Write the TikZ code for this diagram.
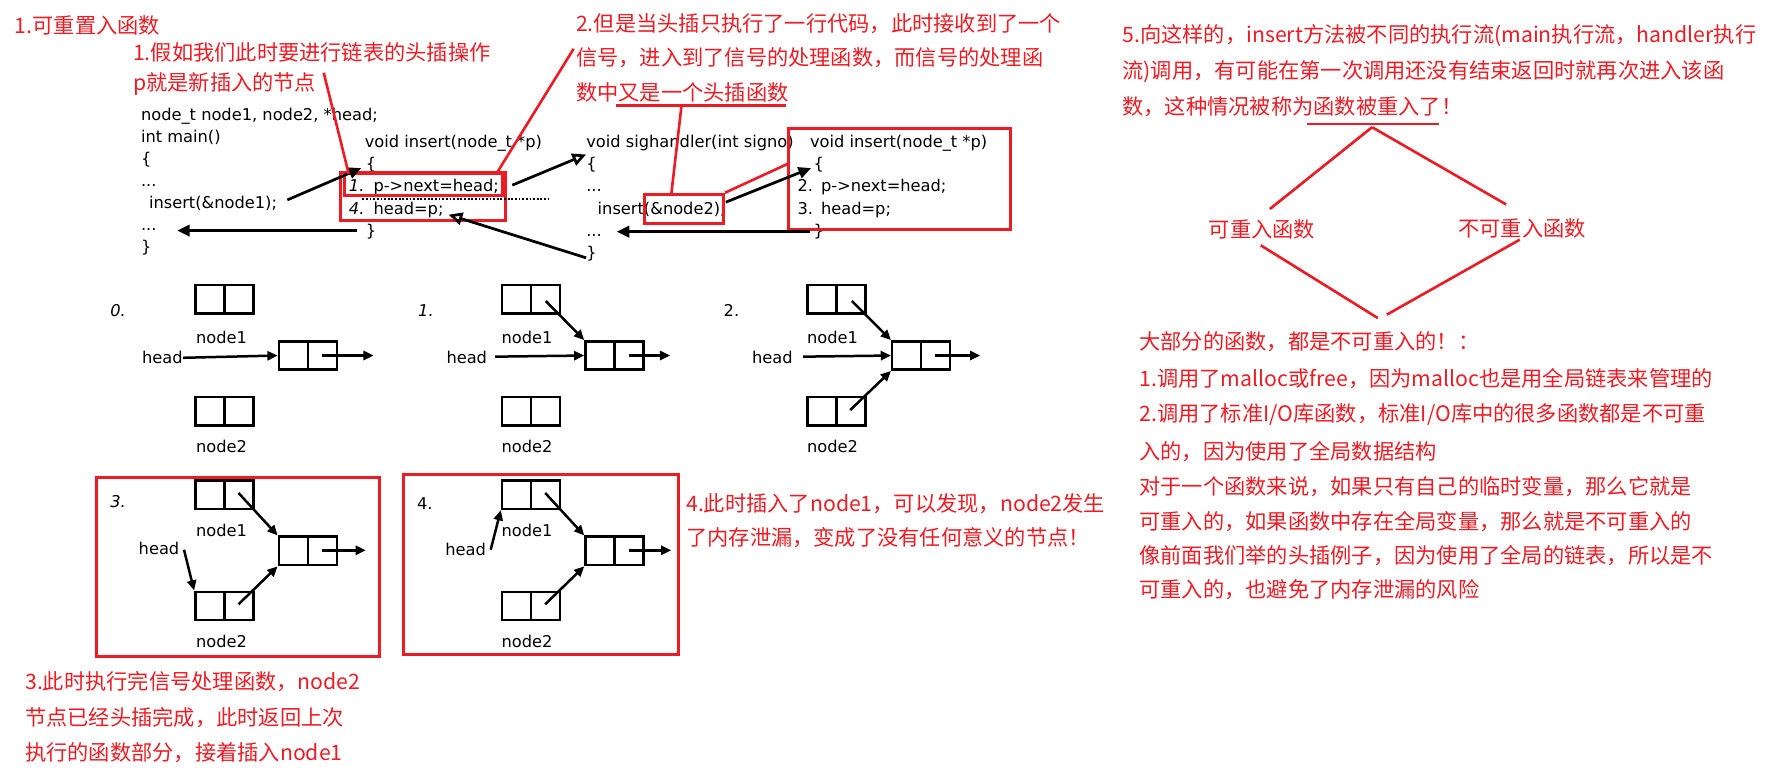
\documentclass[tikz,border=0pt]{standalone}
\usepackage{fontspec}
\setmainfont{DejaVu Sans}
\newfontfamily\cjk{Noto Sans CJK SC}
\usetikzlibrary{arrows.meta}
\definecolor{myred}{RGB}{237,28,36}
\begin{document}
\begin{tikzpicture}[x=1pt,y=-1pt,
  redtxt/.style={text=myred,font=\cjk\fontsize{18.7}{22}\selectfont,anchor=west,inner sep=0pt},
  redc/.style={text=myred,font=\cjk\fontsize{18.7}{22}\selectfont,inner sep=0pt},
  code/.style={font=\fontsize{14.3}{17}\selectfont,anchor=base west,inner sep=0pt},
  lbl/.style={font=\fontsize{14.3}{17}\selectfont,inner sep=0pt},
  cell/.style={draw,line width=2.2pt,minimum width=51pt,minimum height=25pt,inner sep=0pt},
  arr/.style={line width=2.2pt,-{Triangle[length=9pt,width=8pt]}},
  codearr/.style={line width=2.4pt,-{Triangle[length=11pt,width=10pt]}},
  openarr/.style={line width=2.4pt,-{Triangle[open,length=12pt,width=11pt]}},
  redbox/.style={draw=myred,line width=2.6pt,inner sep=0pt},
  redline/.style={draw=myred,line width=2.3pt}
]
\useasboundingbox[fill=white] (0,0) rectangle (1568,686);

% ---------------- red annotations (top) ----------------
\node[redtxt] (t1) at (13,22) {1.可重置入函数};
\node[redtxt] (t2) at (117,46) {1.假如我们此时要进行链表的头插操作};
\node[redtxt] (t3) at (117,74) {p就是新插入的节点};
\node[redtxt] (t4a) at (507,21) {2.但是当头插只执行了一行代码，此时接收到了一个};
\node[redtxt] (t4b) at (507,51) {信号，进入到了信号的处理函数，而信号的处理函};
\node[redtxt] (t4c) at (507,81) {数中又是一个头插函数};

% ---------------- main code ----------------
\node[code] (m1) at (124,106) {node\_t node1, node2, *head;};
\node[code] (m2) at (124,125.5) {int main()};
\node[code] (m3) at (124,145) {\{};
\node[code] (m4) at (124,164) {...};
\node[code] (m5) at (131,183.5) {insert(\&node1);};
\node[code] (m6) at (124,203) {...};
\node[code] (m7) at (124,222) {\}};

% ---------------- insert (first call) ----------------
\node[code] (i1) at (321,130) {void insert(node\_t *p)};
\node[code] (i2) at (322,149.5) {\{};
\node[code] (i3) at (307,169) {\textit{1.}\hspace{8pt}p->next=head;};
\node[code] (i4) at (307,189) {\textit{4.}\hspace{8pt}head=p;};
\node[code] (i5) at (322,208) {\}};

% ---------------- sighandler ----------------
\node[code] (s1) at (516,130) {void sighandler(int signo)};
\node[code] (s2) at (516,149.5) {\{};
\node[code] (s3) at (516,169) {...};
\node[code] (s4) at (526,188.5) {insert(\&node2);};
\node[code] (s5) at (516,208) {...};
\node[code] (s6) at (516,227.5) {\}};

% ---------------- insert (second call) ----------------
\node[code] (j1) at (713,130) {void insert(node\_t *p)};
\node[code] (j2) at (716,149.5) {\{};
\node[code] (j3) at (702,169) {2.\hspace{7pt}p->next=head;};
\node[code] (j4) at (702,189) {3.\hspace{7pt}head=p;};
\node[code] (j5) at (716,208.5) {\}};

% red boxes round code
\node[redbox,minimum width=139pt,minimum height=19pt] (bxin) at (372.5,162.5) {};
\node[redbox,minimum width=145pt,minimum height=42pt] (bxout) at (372.5,173) {};
\node[redbox,minimum width=70pt,minimum height=26pt] (bxn2) at (602,184) {};
\node[redbox,minimum width=196pt,minimum height=89pt] (bxins) at (792,157.5) {};

% dotted separation
\coordinate (dA) at (319,175);
\coordinate (dB) at (483,175);
\draw[line width=2pt,dash pattern=on 1.6pt off 1.6pt] (dA) -- (dB);

% code arrows
\coordinate (a1s) at (253,176);   \coordinate (a1e) at (318,148);
\coordinate (a2s) at (314,203);   \coordinate (a2e) at (156,203);
\coordinate (a3s) at (451,163);   \coordinate (a3e) at (516,136);
\coordinate (a4s) at (516,227);   \coordinate (a4e) at (395,189);
\coordinate (a5s) at (639,178);   \coordinate (a5e) at (714,148);
\coordinate (a6s) at (713,204);   \coordinate (a6e) at (543,204);
\draw[codearr] (a1s) -- (a1e);
\draw[codearr] (a2s) -- (a2e);
\draw[openarr] (a3s) -- (a3e);
\draw[openarr] (a4s) -- (a4e);
\draw[codearr] (a5s) -- (a5e);
\draw[codearr] (a6s) -- (a6e);

% red pointer lines
\coordinate (r1s) at (285,64);  \coordinate (r1e) at (307,153);
\coordinate (r2s) at (505,43);  \coordinate (r2e) at (437,153);
\coordinate (u1a) at (542,93);  \coordinate (u1b) at (692,93);
\coordinate (u1m) at (600,93);  \coordinate (r3e) at (591,171);
\coordinate (r4e) at (694,144);
\draw[redline] (r1s) -- (r1e);
\draw[redline] (r2s) -- (r2e);
\draw[redline] (u1a) -- (u1b);
\draw[redline] (u1m) -- (r3e);
\draw[redline] (bxn2.north east) -- (r4e);

% ---------------- panel 0 ----------------
\node[lbl,font=\fontsize{14.3}{17}\selectfont\itshape] (p0) at (104,273) {0.};
\node[cell] (a0) at (197.5,263.5) {};
\node[cell] (c0) at (271,313) {};
\node[cell] (b0) at (197.5,362) {};
\foreach \n in {a0,c0,b0} \draw[line width=2.2pt] (\n.north) -- (\n.south);
\node[lbl] (la0) at (195,297) {node1};
\node[lbl] (lb0) at (195,393) {node2};
\node[lbl,anchor=east] (h0) at (161,315) {head};
\coordinate (o0) at (283.5,313); \coordinate (o0e) at (329,313);
\draw[arr] (h0.east) -- (c0.west);
\draw[arr] (o0) -- (o0e);

% ---------------- panel 1 ----------------
\node[lbl,font=\fontsize{14.3}{17}\selectfont\itshape] (p1) at (375,273) {1.};
\node[cell] (a1) at (467.5,263.5) {};
\node[cell] (c1) at (541,313) {};
\node[cell] (b1) at (467.5,362) {};
\foreach \n in {a1,c1,b1} \draw[line width=2.2pt] (\n.north) -- (\n.south);
\node[lbl] (la1) at (464,297) {node1};
\node[lbl] (lb1) at (464,393) {node2};
\node[lbl,anchor=east] (h1) at (429,315) {head};
\coordinate (h1s) at (436,314);
\coordinate (o1) at (553.5,313); \coordinate (o1e) at (590,313);
\coordinate (q1) at (480.5,265);
\draw[arr] (h1s) -- (c1.west);
\draw[arr] (o1) -- (o1e);
\draw[arr] (q1) -- (c1.north west);

% ---------------- panel 2 ----------------
\node[lbl] (p2) at (644,273) {2.};
\node[cell] (a2) at (736.5,263.5) {};
\node[cell] (c2) at (811,313) {};
\node[cell] (b2) at (736.5,362) {};
\foreach \n in {a2,c2,b2} \draw[line width=2.2pt] (\n.north) -- (\n.south);
\node[lbl] (la2) at (733,297) {node1};
\node[lbl] (lb2) at (733,393) {node2};
\node[lbl,anchor=east] (h2) at (698,315) {head};
\coordinate (h2s) at (707,314);
\coordinate (o2) at (823.5,313); \coordinate (o2e) at (863,313);
\coordinate (q2) at (750,265);
\coordinate (w2) at (748.5,361);
\draw[arr] (h2s) -- (c2.west);
\draw[arr] (o2) -- (o2e);
\draw[arr] (q2) -- (c2.north west);
\draw[arr] (w2) -- (c2.south west);

% ---------------- panel 3 ----------------
\node[redbox,minimum width=249pt,minimum height=158pt] (bx3) at (209.5,499) {};
\node[lbl,font=\fontsize{14.3}{17}\selectfont\itshape] (p3) at (104,442) {3.};
\node[cell] (a3) at (197.5,435.5) {};
\node[cell] (c3) at (271,485) {};
\node[cell] (b3) at (197.5,533.5) {};
\foreach \n in {a3,c3,b3} \draw[line width=2.2pt] (\n.north) -- (\n.south);
\node[lbl] (la3) at (195,467) {node1};
\node[lbl] (lb3) at (195,565) {node2};
\node[lbl] (h3) at (140,483) {head};
\coordinate (h3s) at (162,484);
\coordinate (o3) at (283.5,484.5); \coordinate (o3e) at (322,484.5);
\coordinate (q3) at (210,434);
\coordinate (w3) at (210,532);
\draw[arr] (h3s) -- (b3.north west);
\draw[arr] (o3) -- (o3e);
\draw[arr] (q3) -- (c3.north west);
\draw[arr] (w3) -- (c3.south west);

% ---------------- panel 4 ----------------
\node[redbox,minimum width=242pt,minimum height=158pt] (bx4) at (476,497) {};
\node[lbl] (p4) at (374,443) {4.};
\node[cell] (a4) at (467.5,435.5) {};
\node[cell] (c4) at (541,485) {};
\node[cell] (b4) at (467.5,533.5) {};
\foreach \n in {a4,c4,b4} \draw[line width=2.2pt] (\n.north) -- (\n.south);
\node[lbl] (la4) at (464,467) {node1};
\node[lbl] (lb4) at (464,565) {node2};
\node[lbl] (h4) at (410,484) {head};
\coordinate (h4s) at (432,484);
\coordinate (o4) at (553.5,484.5); \coordinate (o4e) at (591,484.5);
\coordinate (q4) at (480,434);
\coordinate (w4) at (480,532);
\draw[arr] (h4s) -- (a4.south west);
\draw[arr] (o4) -- (o4e);
\draw[arr] (q4) -- (c4.north west);
\draw[arr] (w4) -- (c4.south west);

% ---------------- red annotations (bottom) ----------------
\node[redtxt] (b1t) at (22,600) {3.此时执行完信号处理函数，node2};
\node[redtxt] (b2t) at (22,632) {节点已经头插完成，此时返回上次};
\node[redtxt] (b3t) at (22,663) {执行的函数部分，接着插入node1};
\node[redtxt] (f1t) at (604,443) {4.此时插入了node1，可以发现，node2发生};
\node[redtxt] (f2t) at (604,473) {了内存泄漏，变成了没有任何意义的节点！};

% ---------------- right column ----------------
\node[redtxt] (g1) at (988,31) {5.向这样的，insert方法被不同的执行流(main执行流，handler执行};
\node[redtxt] (g2) at (988,63) {流)调用，有可能在第一次调用还没有结束返回时就再次进入该函};
\node[redtxt] (g3) at (988,94) {数，这种情况被称为函数被重入了！};
\coordinate (u2a) at (1151,109); \coordinate (u2b) at (1267,109);
\draw[redline] (u2a) -- (u2b);
\node[redc] (k1) at (1111,202) {可重入函数};
\node[redc] (k2) at (1340,201) {不可重入函数};
\coordinate (dt) at (1208,112);
\coordinate (dl) at (1118,184);
\coordinate (dr) at (1326,180);
\coordinate (dl2) at (1110,216);
\coordinate (dr2) at (1338,211);
\coordinate (db1) at (1213,280);
\coordinate (db2) at (1221,277);
\draw[redline] (dt) -- (dl);
\draw[redline] (dt) -- (dr);
\draw[redline] (dl2) -- (db1);
\draw[redline] (dr2) -- (db2);

\node[redtxt] (e1) at (1003,301) {大部分的函数，都是不可重入的！：};
\node[redtxt] (e2) at (1003,333) {1.调用了malloc或free，因为malloc也是用全局链表来管理的};
\node[redtxt] (e3) at (1003,365) {2.调用了标准I/O库函数，标准I/O库中的很多函数都是不可重};
\node[redtxt] (e4) at (1003,398) {入的，因为使用了全局数据结构};
\node[redtxt] (e5) at (1003,428) {对于一个函数来说，如果只有自己的临时变量，那么它就是};
\node[redtxt] (e6) at (1003,459) {可重入的，如果函数中存在全局变量，那么就是不可重入的};
\node[redtxt] (e7) at (1003,489) {像前面我们举的头插例子，因为使用了全局的链表，所以是不};
\node[redtxt] (e8) at (1003,519) {可重入的，也避免了内存泄漏的风险};
\end{tikzpicture}
\end{document}
